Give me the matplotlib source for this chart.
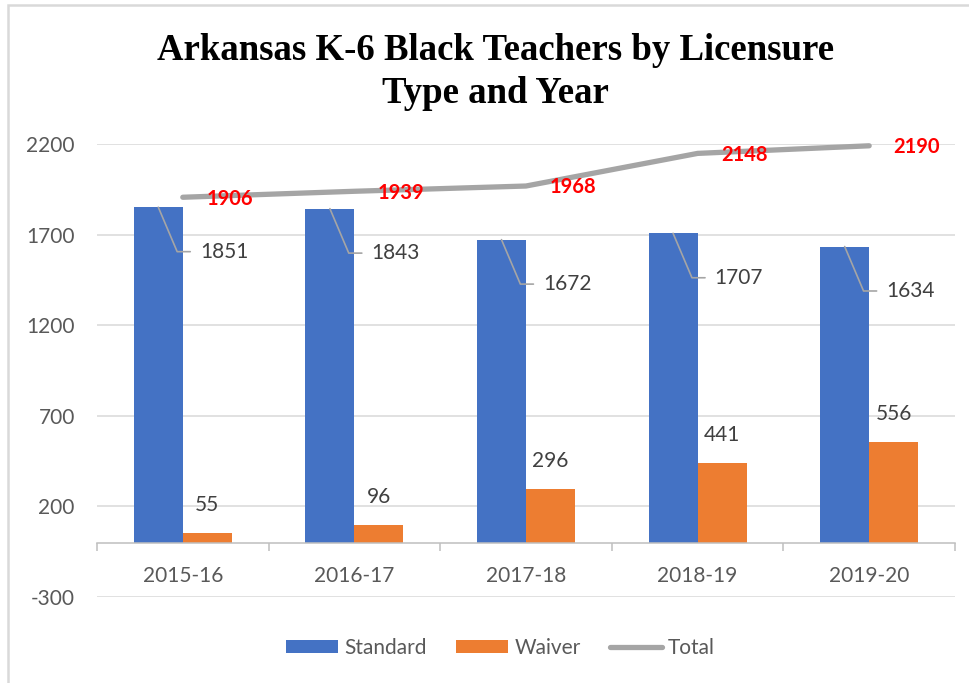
import matplotlib.pyplot as plt
from matplotlib.patches import Rectangle
from matplotlib.ticker import FixedLocator
import numpy as np

years = ['2015-16', '2016-17', '2017-18', '2018-19', '2019-20']
standard = [1851, 1843, 1672, 1707, 1634]
waiver = [55, 96, 296, 441, 556]
total = [1906, 1939, 1968, 2148, 2190]

blue = '#4472C4'
orange = '#ED7D31'
grey_line = '#A5A5A5'
text_col = '#595959'

plt.rcParams['font.family'] = ['Lato', 'DejaVu Sans']
plt.rcParams['axes.unicode_minus'] = False

fig = plt.figure(figsize=(9.7, 6.83), dpi=100)
ax = fig.add_axes([0.1, 0.1259, 0.8845, 0.6633])

x = np.arange(len(years))
bar_width = 0.2855

b1 = ax.bar(x - bar_width / 2, standard, width=bar_width, color=blue, label='Standard', zorder=2)
b2 = ax.bar(x + bar_width / 2, waiver, width=bar_width, color=orange, label='Waiver', zorder=2)
l1, = ax.plot(x, total, color=grey_line, lw=3.8, solid_capstyle='round', label='Total', zorder=3, clip_on=False)

# standard labels with leader lines
for xi, val in zip(x, standard):
    ax.annotate(str(val), (xi - bar_width / 2, val), xytext=(30, -32), textcoords='offset points',
                ha='left', va='center', fontsize=15, color='#404040',
                arrowprops=dict(arrowstyle='-', color=grey_line, lw=1.2, shrinkA=5, shrinkB=0,
                                connectionstyle='angle,angleA=0,angleB=-67,rad=0'))

for xi, val in zip(x, waiver):
    ax.annotate(str(val), (xi + bar_width / 2, val), xytext=(0, 20), textcoords='offset points',
                ha='center', va='center', fontsize=15, color='#404040')

for xi, val in zip(x, total):
    ax.annotate(str(val), (xi, val), xytext=(17, -1), textcoords='offset points',
                ha='left', va='center', fontsize=14.5, color='#FF0000', fontweight='bold')

ax.set_xlim(-0.5, len(years) - 0.5)
ax.set_ylim(-300, 2200)
ax.set_yticks([-300, 200, 700, 1200, 1700, 2200])
ax.grid(axis='y', color='#D9D9D9', lw=1.1, zorder=0)
ax.set_axisbelow(True)

ax.set_xticks(x)
ax.set_xticklabels(years)
ax.xaxis.set_minor_locator(FixedLocator(np.arange(-0.5, len(years), 1)))
ax.tick_params(axis='x', which='major', length=0, pad=17, labelsize=15, labelcolor=text_col)
ax.tick_params(axis='x', which='minor', length=6, width=1.1, color='#BFBFBF', direction='out')
ax.tick_params(axis='y', length=0, pad=16, labelsize=15, labelcolor=text_col)

for side in ['top', 'right', 'left']:
    ax.spines[side].set_visible(False)
ax.spines['bottom'].set_position(('data', 0))
ax.spines['bottom'].set_color('#BFBFBF')
ax.spines['bottom'].set_linewidth(1.1)

fig.text(0.511, 0.894, 'Arkansas K-6 Black Teachers by Licensure\nType and Year',
         ha='center', va='center', fontsize=26.5, fontweight='bold',
         family='Liberation Serif', linespacing=1.3)

fig.legend(handles=[b1, b2, l1], loc='center', bbox_to_anchor=(0.516, 0.051), ncol=3, frameon=False,
           fontsize=15, labelcolor=text_col, handlelength=2.5, handleheight=0.6,
           handletextpad=0.3, columnspacing=1.4)

# chart border
fig.patches.append(Rectangle((8 / 970, -0.05), 1.2, 1.05 - 5 / 683, transform=fig.transFigure,
                             fill=False, edgecolor='#D9D9D9', lw=1.8))

fig.savefig('out.png', dpi=100)
